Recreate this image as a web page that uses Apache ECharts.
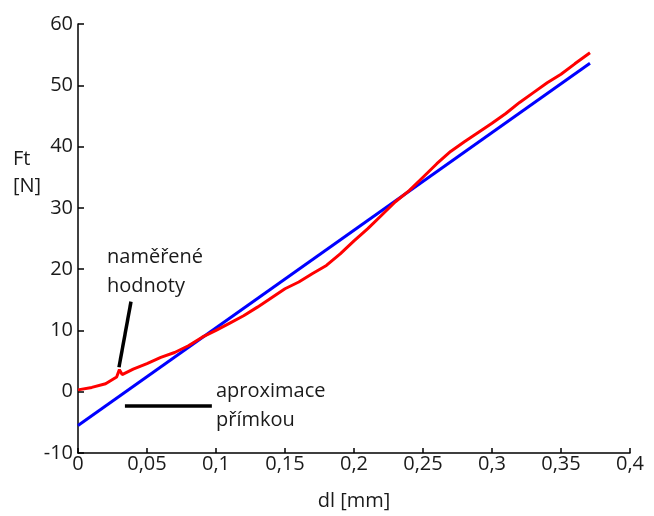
<!DOCTYPE html>
<html>
<head>
<meta charset="utf-8">
<script src="https://cdn.jsdelivr.net/npm/echarts@6/dist/echarts.min.js"></script>
<style>
  html, body { margin: 0; padding: 0; background: #fff; }
  #chart { width: 654px; height: 516px; }
</style>
</head>
<body>
<div id="chart"></div>
<script>
// naměřené hodnoty (dl [mm], Ft [N])
var measuredX = [0, 0.01, 0.02, 0.028, 0.03, 0.032, 0.04, 0.05, 0.06, 0.07, 0.08, 0.09, 0.1,
  0.11, 0.12, 0.13, 0.14, 0.15, 0.16, 0.17, 0.18, 0.19, 0.2, 0.21, 0.22, 0.23, 0.24, 0.25,
  0.26, 0.27, 0.28, 0.29, 0.3, 0.31, 0.32, 0.33, 0.34, 0.35, 0.36, 0.371];
var measuredY = [0.3, 0.7, 1.3, 2.4, 3.6, 2.8, 3.7, 4.6, 5.6, 6.4, 7.5, 8.9, 10.0,
  11.2, 12.4, 13.8, 15.3, 16.8, 17.9, 19.3, 20.6, 22.5, 24.6, 26.6, 28.8, 31.0, 32.8, 35.0,
  37.2, 39.2, 40.8, 42.3, 43.8, 45.4, 47.2, 48.8, 50.4, 51.8, 53.5, 55.3];
// aproximace přímkou
var fitX = [0, 0.371];
var fitY = [-5.5, 53.6];

var xTicks = { min: 0, max: 0.4, interval: 0.05 };
var yTicks = { min: -10, max: 60, interval: 10 };

var font = '"Open Sans", "Noto Sans", sans-serif';
var textColor = '#1a1a1a';

function pairs(xs, ys) {
  return xs.map(function (x, i) { return [x, ys[i]]; });
}
function comma(v) {
  return String(+v.toFixed(4)).replace('.', ',');
}

var chart = echarts.init(document.getElementById('chart'));
var option = {
  animation: false,
  grid: { left: 78, right: 24, top: 24, bottom: 59 },
  xAxis: {
    type: 'value',
    min: xTicks.min, max: xTicks.max, interval: xTicks.interval,
    name: 'dl [mm]',
    nameLocation: 'middle',
    nameGap: 38,
    nameTextStyle: { fontFamily: font, fontSize: 20, color: textColor },
    axisLine: { onZero: false, lineStyle: { color: '#000', width: 1.5 } },
    axisTick: { inside: true, length: 5, lineStyle: { color: '#000', width: 1.5 } },
    axisLabel: { fontFamily: font, fontSize: 20, color: textColor, margin: 1, formatter: comma },
    splitLine: { show: false }
  },
  yAxis: {
    type: 'value',
    min: yTicks.min, max: yTicks.max, interval: yTicks.interval,
    axisLine: { show: true, onZero: false, lineStyle: { color: '#000', width: 1.5 } },
    axisTick: { show: true, inside: true, length: 6, lineStyle: { color: '#000', width: 1.5 } },
    axisLabel: { fontFamily: font, fontSize: 20, color: textColor, margin: 5 },
    splitLine: { show: false }
  },
  graphic: [
    { type: 'text', left: 13, top: 146, style: { text: 'Ft\n[N]', font: '20px ' + font, fill: textColor, lineHeight: 27, align: 'center' } },
    { type: 'text', left: 107, top: 243, style: { text: 'naměřené\nhodnoty', font: '20px ' + font, fill: textColor, lineHeight: 29 } },
    { type: 'text', left: 216, top: 377, style: { text: 'aproximace\npřímkou', font: '20px ' + font, fill: textColor, lineHeight: 29 } }
  ],
  series: [
    {
      name: 'naměřené hodnoty',
      type: 'line',
      data: pairs(measuredX, measuredY),
      symbol: 'none',
      lineStyle: { color: '#ff0000', width: 3 },
      z: 3,
      markLine: {
        silent: true,
        symbol: ['none', 'none'],
        label: { show: false },
        lineStyle: { color: '#000', width: 3.5, type: 'solid' },
        data: [
          [{ coord: [0.0297, 4.0] }, { coord: [0.0384, 14.7] }],
          [{ coord: [0.034, -2.3] }, { coord: [0.097, -2.3] }]
        ]
      }
    },
    {
      name: 'aproximace přímkou',
      type: 'line',
      data: pairs(fitX, fitY),
      symbol: 'none',
      lineStyle: { color: '#0000ff', width: 3 },
      z: 2
    }
  ]
};
chart.setOption(option);
</script>
</body>
</html>
